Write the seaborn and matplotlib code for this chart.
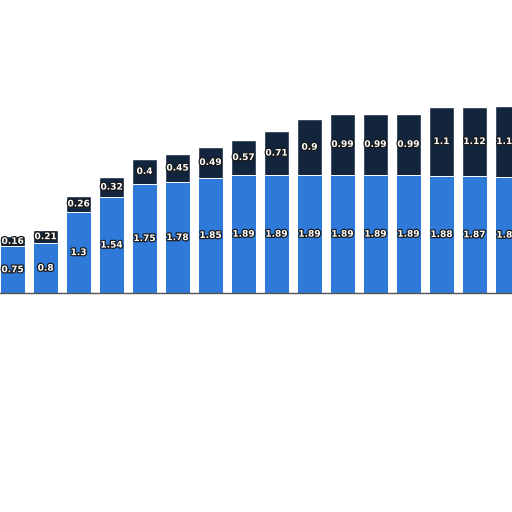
import matplotlib
matplotlib.use("Agg")
import matplotlib.pyplot as plt
import matplotlib.patheffects as pe
import numpy as np
import pandas as pd
import seaborn as sns

# values (left to right)
lower_vals = [0.75, 0.8, 1.3, 1.54, 1.75, 1.78, 1.85, 1.89, 1.89, 1.89,
              1.89, 1.89, 1.89, 1.88, 1.87, 1.86]
upper_vals = [0.16, 0.21, 0.26, 0.32, 0.4, 0.45, 0.49, 0.57, 0.71, 0.9,
              0.99, 0.99, 0.99, 1.1, 1.12, 1.14]
periods = [str(i) for i in range(len(lower_vals))]

blue = "#2f79d9"
navy = "#12253d"

df = pd.DataFrame({"period": periods, "lower": lower_vals, "upper": upper_vals})
df["total"] = df["lower"] + df["upper"]

sns.set_style("white")
fig = plt.figure(figsize=(5.12, 5.12), dpi=100)
ax = fig.add_axes([0, 0, 1, 1])

shadow = [pe.SimplePatchShadow(offset=(0, 0), shadow_rgbFace="#999999",
                               alpha=0.35), pe.Normal()]

# total first (navy), then lower part on top of it (blue)
sns.barplot(data=df, x="period", y="total", color=navy, width=0.76,
            saturation=1, ax=ax)
for p in ax.patches:
    p.set_path_effects(shadow)
n_first = len(ax.patches)
sns.barplot(data=df, x="period", y="lower", color=blue, width=0.76,
            saturation=1, edgecolor="white", linewidth=0.7, ax=ax)

ax.axhline(0, color="#555555", lw=1.0, zorder=3)

stroke = [pe.withStroke(linewidth=1.8, foreground="#1a1a1a")]
for i, row in df.iterrows():
    ax.text(i, row["lower"] / 2, f"{row['lower']:g}", ha="center", va="center",
            color="white", fontsize=6.5, fontweight="bold", path_effects=stroke)
    ax.text(i, row["lower"] + row["upper"] / 2, f"{row['upper']:g}",
            ha="center", va="center", color="white", fontsize=6.5,
            fontweight="bold", path_effects=stroke)

ax.set_xlim(-0.38, 15.14)
ax.set_ylim(-3.51, 4.70)
ax.set_xlabel("")
ax.set_ylabel("")
ax.set_xticks([])
ax.set_yticks([])
sns.despine(ax=ax, left=True, bottom=True)

fig.savefig("out.png", dpi=100)
